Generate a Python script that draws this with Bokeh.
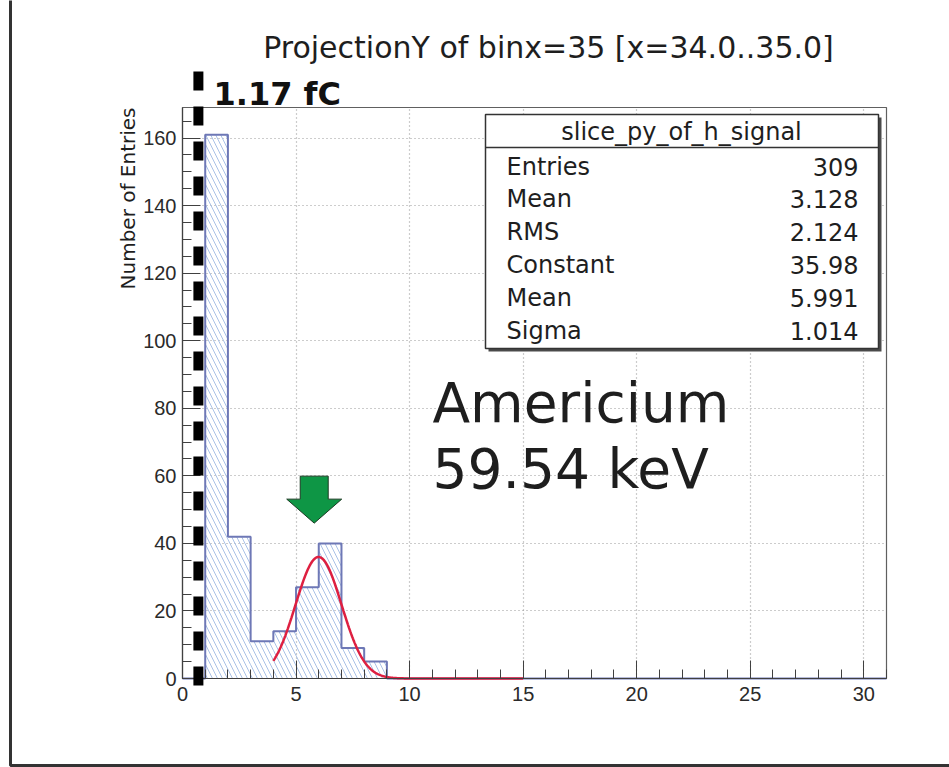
import numpy as np
from bokeh.plotting import figure
from bokeh.models import Range1d, SingleIntervalTicker, Label, BoxAnnotation, Arrow, ColumnDataSource
from bokeh.embed import file_html
from bokeh.resources import INLINE

# ---------------- data ----------------
BIN_LOW = [0, 1, 2, 3, 4, 5, 6, 7, 8, 9, 10, 11, 12, 13, 14, 15,
           16, 17, 18, 19, 20, 21, 22, 23, 24, 25, 26, 27, 28, 29, 30]
BIN_COUNTS = [0, 161, 42, 11, 14, 27, 40, 9, 5, 0, 0, 0, 0, 0, 0, 0,
              0, 0, 0, 0, 0, 0, 0, 0, 0, 0, 0, 0, 0, 0, 0]
BIN_WIDTH = 1

FIT_CONSTANT = 35.98
FIT_MEAN = 5.991
FIT_SIGMA = 1.014
FIT_RANGE = [4, 15]

STATS_TITLE = "slice_py_of_h_signal"
STATS_NAMES = ["Entries", "Mean", "RMS", "Constant", "Mean", "Sigma"]
STATS_VALUES = ["309", "3.128", "2.124", "35.98", "5.991", "1.014"]

TITLE = "ProjectionY of binx=35 [x=34.0..35.0]"
Y_TITLE = "Number of Entries"
CHARGE_TEXT = "1.17 fC"
SOURCE_TEXT = ["Americium", "59.54 keV"]

X_TICK_STEP = 5
Y_TICK_STEP = 20
X_MAX = 31
Y_MAX = 1.05 * max(BIN_COUNTS)

MARKER_X = 0.7          # thick dashed marker line
ARROW_TIP = (5.8, 46)   # green arrow tip (data coords)

# ---------------- layout calibration ----------------
W, H = 949, 767
FL, FR, FT, FB = 182, 886, 107, 678   # ROOT frame in pixels
kx = (FR - FL) / X_MAX
ky = (FB - FT) / Y_MAX
x0 = -FL / kx
x1 = x0 + W / kx
y1 = Y_MAX + FT / ky
y0 = y1 - H / ky


def px_x(px):
    return x0 + px / kx


def px_y(py):
    return y1 - py / ky


FONT = "DejaVu Sans"
TXT = "#1e1e1e"

p = figure(width=W, height=H, x_range=Range1d(x0, x1), y_range=Range1d(y0, y1),
           output_backend="svg", toolbar_location=None, title=None,
           min_border=0)
p.min_border_left = p.min_border_right = p.min_border_top = p.min_border_bottom = 0
p.outline_line_color = None
p.background_fill_color = "white"
p.border_fill_color = "white"

# axes
xax = p.xaxis[0]
xax.fixed_location = 0
xax.bounds = (0, X_MAX)
xax.ticker = SingleIntervalTicker(interval=X_TICK_STEP, num_minor_ticks=5)
yax = p.yaxis[0]
yax.fixed_location = 0
yax.bounds = (0, Y_MAX)
yax.ticker = SingleIntervalTicker(interval=Y_TICK_STEP, num_minor_ticks=4)
for ax in (xax, yax):
    ax.axis_line_color = "#404040"
    ax.axis_line_width = 1.2
    ax.major_tick_in = 18
    ax.major_tick_out = 0
    ax.minor_tick_in = 9
    ax.minor_tick_out = 0
    ax.major_tick_line_color = "#404040"
    ax.minor_tick_line_color = "#404040"
    ax.major_label_text_font = "Liberation Sans"
    ax.major_label_text_font_size = "20px"
    ax.major_label_text_color = "#2a2a2a"
xax.major_label_standoff = 8
yax.major_label_standoff = 6

# grids
xg = p.xgrid[0]
yg = p.ygrid[0]
xg.ticker = xax.ticker
yg.ticker = yax.ticker
xg.bounds = (X_TICK_STEP, X_MAX)
yg.bounds = (Y_TICK_STEP, Y_MAX)
grid_ok = True
try:
    xg.cross_bounds = (0, Y_MAX)
    yg.cross_bounds = (0, X_MAX)
except Exception:
    grid_ok = False
for g in (xg, yg):
    g.grid_line_color = "#9a9a9a"
    g.grid_line_dash = "1 3"
    g.grid_line_width = 1.2
if not grid_ok:
    xg.visible = False
    yg.visible = False
    xt = list(range(X_TICK_STEP, X_MAX, X_TICK_STEP))
    yt = list(range(Y_TICK_STEP, int(Y_MAX), Y_TICK_STEP))
    p.segment(x0=xt, x1=xt, y0=[0] * len(xt), y1=[Y_MAX] * len(xt),
              line_color="#9a9a9a", line_dash="1 3", level="underlay")
    p.segment(x0=[0] * len(yt), x1=[X_MAX] * len(yt), y0=yt, y1=yt,
              line_color="#9a9a9a", line_dash="1 3", level="underlay")

# histogram
low = np.array(BIN_LOW, dtype=float)
cnt = np.array(BIN_COUNTS, dtype=float)
src = ColumnDataSource(dict(left=low, right=low + BIN_WIDTH, top=cnt, bottom=np.zeros_like(cnt)))
p.quad(source=src, left="left", right="right", top="top", bottom="bottom",
       fill_color="white", fill_alpha=0, line_color=None,
       hatch_pattern="\\", hatch_color="#a9c1e6", hatch_scale=10, hatch_weight=1)
edges = list(BIN_LOW) + [BIN_LOW[-1] + BIN_WIDTH]
step_y = list(BIN_COUNTS) + [0]
p.step(x=edges, y=step_y, mode="after", line_color="#6e78b6", line_width=2)

# gaussian fit drawn from the fit parameters in the stats box
fx = np.linspace(FIT_RANGE[0], FIT_RANGE[1], 400)
fy = FIT_CONSTANT * np.exp(-0.5 * ((fx - FIT_MEAN) / FIT_SIGMA) ** 2)
p.line(fx, fy, line_color="#de1f40", line_width=2.5)

# green arrow pointing at the peak
offs = [(-14, 47), (14, 47), (14, 24), (27.5, 24), (0, 0), (-27.5, 24), (-14, 24)]
ax_pts = [ARROW_TIP[0] + dx / kx for dx, dy in offs]
ay_pts = [ARROW_TIP[1] + dy / ky for dx, dy in offs]
p.patch(ax_pts, ay_pts, fill_color="#0e9645", line_color="#1d3b24", line_width=1)

# frame box
p.add_layout(BoxAnnotation(left=0, right=X_MAX, bottom=0, top=Y_MAX, fill_alpha=0,
                           line_color="#606060", line_alpha=1, line_width=1.2, level="underlay"))

# outer canvas border (left & bottom visible)
p.add_layout(BoxAnnotation(left=px_x(10), right=px_x(3000), top=px_y(-3000), bottom=px_y(765),
                           fill_alpha=0, line_color="#333333", line_alpha=1, line_width=3))

# thick dashed marker line
p.add_layout(Arrow(start=None, end=None, x_start=MARKER_X, x_end=MARKER_X,
                   y_start=px_y(71), y_end=px_y(688), line_color="black",
                   line_width=10, line_dash="19 16", line_cap="butt"))

# stats box
p.add_layout(BoxAnnotation(left=px_x(488), right=px_x(881), top=px_y(117), bottom=px_y(351),
                           fill_color="#4a4a4a", fill_alpha=1, line_color=None))
p.add_layout(BoxAnnotation(left=px_x(485), right=px_x(878), top=px_y(114), bottom=px_y(348),
                           fill_color="white", fill_alpha=1, line_color="#333333",
                           line_alpha=1, line_width=1.5))
p.add_layout(Arrow(start=None, end=None, x_start=px_x(485), x_end=px_x(878),
                   y_start=px_y(147), y_end=px_y(147), line_color="#333333", line_width=1.5))
p.add_layout(Label(x=px_x(681), y=px_y(131), text=STATS_TITLE, text_align="center",
                   text_baseline="middle", text_font=FONT, text_font_size="24px",
                   text_color=TXT))
for i, (nm, vl) in enumerate(zip(STATS_NAMES, STATS_VALUES)):
    yy = px_y(166 + i * 32.8)
    p.add_layout(Label(x=px_x(506), y=yy, text=nm, text_align="left", text_baseline="middle",
                       text_font=FONT, text_font_size="24px", text_color=TXT))
    p.add_layout(Label(x=px_x(858), y=yy, text=vl, text_align="right", text_baseline="middle",
                       text_font=FONT, text_font_size="24px", text_color=TXT))

# titles and annotations
p.add_layout(Label(x=px_x(548), y=px_y(47), text=TITLE, text_align="center",
                   text_baseline="middle", text_font=FONT, text_font_size="30px",
                   text_color=TXT))
p.add_layout(Label(x=px_x(127), y=px_y(107), text=Y_TITLE, angle=np.pi / 2,
                   text_align="right", text_baseline="middle", text_font=FONT,
                   text_font_size="20px", text_color=TXT))
p.add_layout(Label(x=px_x(213), y=px_y(93), text=CHARGE_TEXT, text_align="left",
                   text_baseline="middle", text_font=FONT, text_font_size="32px",
                   text_font_style="bold", text_color="#111111"))
for i, t in enumerate(SOURCE_TEXT):
    p.add_layout(Label(x=px_x(432), y=px_y(402 + i * 66), text=t, text_align="left",
                       text_baseline="middle", text_font=FONT, text_font_size="55px",
                       text_color=TXT))

open("out.html", "w").write(file_html(p, INLINE))
